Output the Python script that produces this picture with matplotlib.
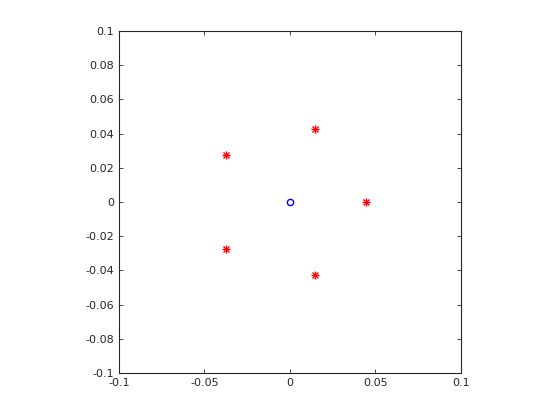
import matplotlib
matplotlib.use("Agg")
import matplotlib.pyplot as plt
import numpy as np

pole_re = [0.0446, 0.0146, -0.0373, -0.0373, 0.0146]
pole_im = [0.0, 0.0427, 0.0275, -0.0275, -0.0427]
zero_re = [0.0]
zero_im = [0.0]
xticks = [-0.1, -0.05, 0, 0.05, 0.1]
yticks = [-0.1, -0.08, -0.06, -0.04, -0.02, 0, 0.02, 0.04, 0.06, 0.08, 0.1]

fig = plt.figure(figsize=(5.6, 4.2), dpi=100)
ax = fig.add_axes([0.2125, 0.1119, 0.6107, 0.8143])
ax.plot(zero_re, zero_im, 'o', mfc='none', mec='blue', ms=4.5, mew=1)
ax.plot(pole_re, pole_im, 'x', color='red', ms=4.5, mew=1, linestyle='none')
ax.plot(pole_re, pole_im, '+', color='red', ms=6, mew=1, linestyle='none')
ax.set_xlim(-0.1, 0.1)
ax.set_ylim(-0.1, 0.1)
ax.set_xticks(xticks)
ax.set_xticklabels(['-0.1', '-0.05', '0', '0.05', '0.1'])
ax.set_yticks(yticks)
ax.set_yticklabels(['-0.1', '-0.08', '-0.06', '-0.04', '-0.02', '0', '0.02', '0.04', '0.06', '0.08', '0.1'])
ax.tick_params(direction='in', top=True, right=True, labelsize=8, colors='#262626', length=3, width=0.6)
for s in ax.spines.values():
    s.set_color('#262626')
    s.set_linewidth(0.8)
fig.savefig('out.png', dpi=100)
